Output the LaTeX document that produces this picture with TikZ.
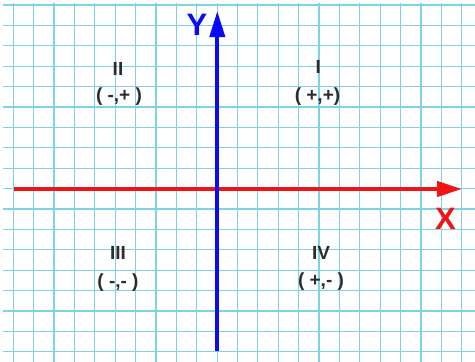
\documentclass[tikz,border=0pt]{standalone}
\usepackage{fontspec}
\setmainfont{Liberation Sans}
\definecolor{gridcyan}{RGB}{125,210,228}
\definecolor{axisred}{RGB}{240,20,20}
\definecolor{axisblue}{RGB}{10,10,245}
\definecolor{txtgray}{RGB}{45,45,45}
\usetikzlibrary{arrows.meta, positioning}

\begin{document}
\begin{tikzpicture}[x=1pt, y=-1pt,
    gridline/.style={draw=gridcyan, line width=1.2pt},
    quad/.style={inner sep=0pt, text=txtgray, font=\bfseries\fontsize{19}{21}\selectfont},
    sign/.style={inner sep=0pt, text=txtgray, font=\bfseries\fontsize{19}{21}\selectfont},
    xarr/.style={draw=axisred, line width=4pt, -{Triangle[length=25pt, width=15pt]}},
    yarr/.style={draw=axisblue, line width=4pt, -{Triangle[length=26pt, width=15pt]}},
    axlabel/.style={inner sep=0pt, font=\bfseries\fontsize{31}{33}\selectfont}
  ]
  \useasboundingbox (0,0) rectangle (475,362);
  \fill[white] (0,0) rectangle (475,362);

  % graph paper
  \foreach \i in {0,...,22}
    \draw[gridline] ({13.3+20.38*\i},3) -- ({13.3+20.38*\i},362);
  \foreach \j in {0,...,17}
    \draw[gridline] (3,{5+20.4*\j}) -- (475,{5+20.4*\j});

  % axes
  \coordinate (xstart) at (14,189);
  \coordinate (xend)   at (462,189);
  \coordinate (ystart) at (217.3,351);
  \coordinate (yend)   at (217.3,11);
  \draw[xarr] (xstart) -- (xend);
  \draw[yarr] (ystart) -- (yend);

  \node[axlabel, text=axisblue] (ylab) at (197,25)    {Y};
  \node[axlabel, text=axisred]  (xlab) at (445.5,218.5) {X};

  % quadrants
  \node[quad] (q1) at (318.3,67) {I};
  \node[sign] (s1) at (317.5,97) {( +,+)};
  \node[quad] (q2) at (118,69)   {II};
  \node[sign] (s2) at (119,97)   {( -,+ )};
  \node[quad] (q3) at (118,252.5) {III};
  \node[sign] (s3) at (118,283)  {( -,- )};
  \node[quad] (q4) at (321,253)  {IV};
  \node[sign] (s4) at (321,282)  {( +,- )};
\end{tikzpicture}
\end{document}
